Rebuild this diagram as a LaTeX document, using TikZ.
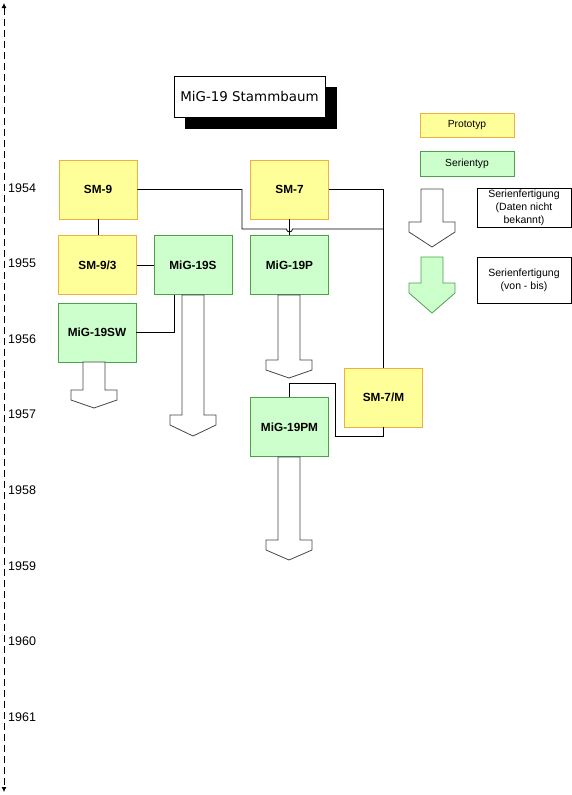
\documentclass[tikz,border=0pt]{standalone}
\usepackage{fontspec}
\setmainfont{Liberation Sans}
\newfontfamily\titlefont{DejaVu Sans}
\usetikzlibrary{arrows.meta}

\definecolor{protofill}{RGB}{255,255,153}
\definecolor{protoline}{RGB}{240,176,64}
\definecolor{serfill}{RGB}{204,255,204}
\definecolor{serline}{RGB}{76,160,76}
\definecolor{pfeilline}{RGB}{70,70,70}

\tikzset{
  proto/.style={draw=protoline, fill=protofill, line width=0.9pt, inner sep=0pt,
    minimum width=78, minimum height=59, font=\fontsize{11.8}{13}\selectfont\bfseries},
  serie/.style={proto, draw=serline, fill=serfill},
  legende/.style={draw, fill=white, line width=0.8pt, inner sep=0pt, align=center,
    minimum width=94, font=\fontsize{10.5}{13}\selectfont},
  pfeil/.style={draw=pfeilline, line width=0.8pt, fill=white},
  verbindung/.style={line width=0.8pt, black}
}

% Blockpfeil: Mitte x, oben, Hals, Spitze, Stil
\newcommand{\serienpfeil}[5]{
  \draw[pfeil,#5] (#1-11,#2) -- (#1-11,#3) -- (#1-23,#3) -- (#1-23,#3+10)
    -- (#1,#4) -- (#1+23,#3+10) -- (#1+23,#3) -- (#1+11,#3) -- (#1+11,#2) -- cycle;
}

\begin{document}
\begin{tikzpicture}[x=1pt,y=-1pt]
\useasboundingbox (0,0) rectangle (572,795);

% Zeitachse
\draw[line width=0.8pt, dash pattern=on 7pt off 4pt, {Latex[length=5pt,width=5pt]}-{Latex[length=5pt,width=5pt]}] (4,3) -- (4,792);
\foreach \yr [count=\i from 0] in {1954,...,1961}
  \node[anchor=west, inner sep=0pt, font=\fontsize{12.5}{14}\selectfont] (y\yr) at (8,188+75.55*\i) {\yr};

% Titel
\fill (185,87) rectangle (337,129);
\node[draw, fill=white, line width=0.8pt, minimum width=151, minimum height=41, inner sep=0pt,
  font=\titlefont\fontsize{13.4}{15}\selectfont] (titel) at (249.5,96.5) {MiG-19 Stammbaum};

% Legende
\node[proto, minimum width=94, minimum height=24, font=\fontsize{10.3}{12}\selectfont] (lproto) at (467,125) {Prototyp};
\node[serie, minimum width=94, minimum height=25, font=\fontsize{10.3}{12}\selectfont] (lserie) at (467,163.5) {Serientyp};
\node[legende, minimum height=39] (lunbek) at (524,208) {Serienfertigung\\(Daten nicht\\bekannt)};
\node[legende, minimum height=46] (lvonbis) at (524,280) {Serienfertigung\\(von - bis)};
\serienpfeil{432}{189}{222}{247}{}
\serienpfeil{432}{257}{283}{313}{draw=serline, fill=serfill}

% Typen
\node[proto] (sm9) at (98,189.5) {SM-9};
\node[proto] (sm7) at (289.5,189.5) {SM-7};
\node[proto] (sm93) at (97.5,265) {SM-9/3};
\node[serie] (mig19s) at (193,265) {MiG-19S};
\node[serie] (mig19p) at (289.5,265) {MiG-19P};
\node[serie] (mig19sw) at (97,332.5) {MiG-19SW};
\node[proto] (sm7m) at (383.5,397.5) {SM-7/M};
\node[serie] (mig19pm) at (289.5,427) {MiG-19PM};

% Verbindungen
\coordinate (knoten) at (383.5,229);
\draw[verbindung] (sm9.east) -| (242,229) -- (286.5,229) arc[start angle=180, end angle=0, radius=3] -- (knoten);
\draw[verbindung] (sm7.east) -| (sm7m.north);
\draw[verbindung] (sm7.south) -- (mig19p.north);
\draw[verbindung] (sm9.south) -- (sm9.south |- sm93.north);
\draw[verbindung] (sm93.east) -- (mig19s.west);
\draw[verbindung] (mig19sw.east) -| ([xshift=-19pt]mig19s.south);
\draw[verbindung] (sm7m.south) -- ++(0,9) -| (335,383) -| (mig19pm.north);

% Serienfertigung
\serienpfeil{94}{362}{390}{408}{}
\serienpfeil{193}{295}{415}{436}{}
\serienpfeil{289}{295}{360}{378}{}
\serienpfeil{289}{457}{540}{560}{}
\end{tikzpicture}
\end{document}
